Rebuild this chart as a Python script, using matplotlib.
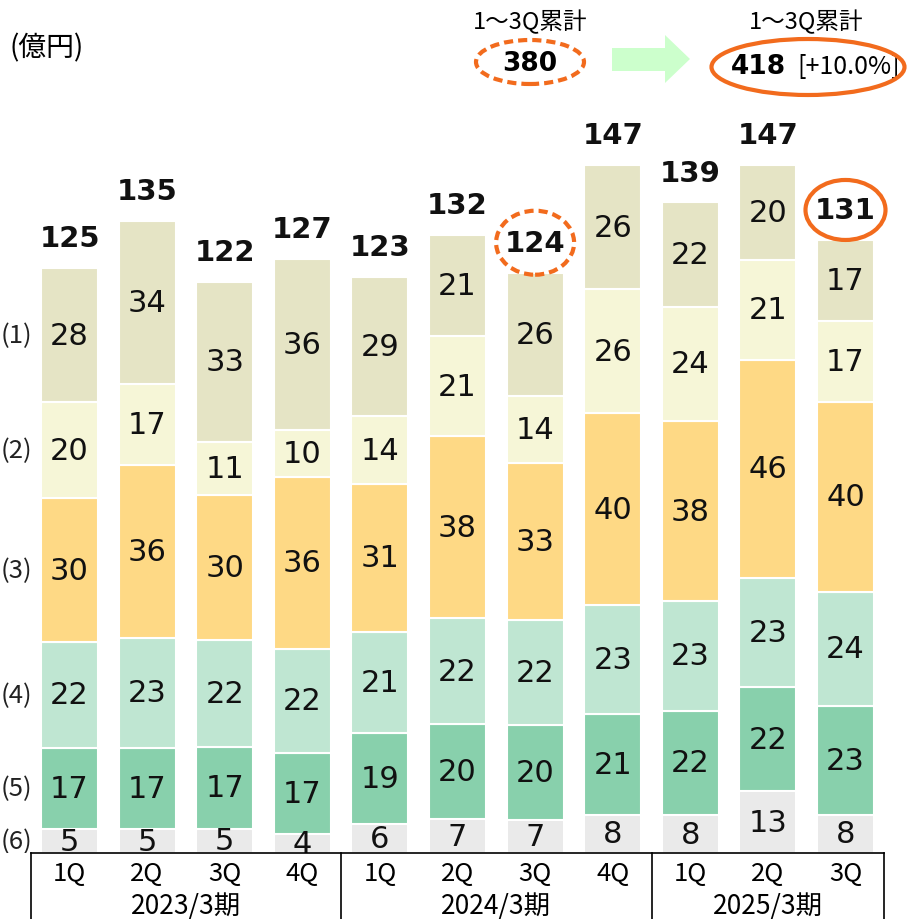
import matplotlib
matplotlib.use('Agg')
from matplotlib import pyplot
from matplotlib.patches import Ellipse, Rectangle, Polygon
import numpy

pyplot.rcParams['font.family'] = ['DejaVu Sans', 'Noto Sans CJK JP']

# 
# data (億円), series (1) on top ... (6) at bottom
# 
quarters = ['1Q', '2Q', '3Q', '4Q', '1Q', '2Q', '3Q', '4Q', '1Q', '2Q', '3Q']
fiscal_years = ['2023/3期', '2024/3期', '2025/3期']
fiscal_year_nquarters = [4, 4, 3]
series_names = ['(1)', '(2)', '(3)', '(4)', '(5)', '(6)']
seg_1 = [28, 34, 33, 36, 29, 21, 26, 26, 22, 20, 17]
seg_2 = [20, 17, 11, 10, 14, 21, 14, 26, 24, 21, 17]
seg_3 = [30, 36, 30, 36, 31, 38, 33, 40, 38, 46, 40]
seg_4 = [22, 23, 22, 22, 21, 22, 22, 23, 23, 23, 24]
seg_5 = [17, 17, 17, 17, 19, 20, 20, 21, 22, 22, 23]
seg_6 = [5, 5, 5, 4, 6, 7, 7, 8, 8, 13, 8]
totals = [125, 135, 122, 127, 123, 132, 124, 147, 139, 147, 131]
cum_prev_label = '380'
cum_this_label = '418'
cum_growth_label = '[+10.0%]'
cum_title = '1～3Q累計'

seg_colors = ['#E5E4C5', '#F6F6D7', '#FED985', '#BFE6D2', '#88D0AC', '#EAEAEA']
orange = '#F26B1D'
cjk = ['Noto Sans CJK JP', 'DejaVu Sans']

# 
# pixel <-> data helpers (figure 913x920 px, axes fill the figure)
# 
x0_px, dx_px = 69.5, 77.6
y0_px, dy_px = 854.0, 4.68
def px_x(p):
    return (p - x0_px) / dx_px
def px_y(p):
    return (y0_px - p) / dy_px

fig = pyplot.figure(figsize=(9.13, 9.2), dpi=100)
ax = fig.add_axes([0, 0, 1, 1])
ax.set_xlim(px_x(0), px_x(913))
ax.set_ylim(px_y(920), px_y(0))
ax.axis('off')

# 
# stacked bars, bottom to top; labels are truncated values so the
# segments are scaled to reach the bar total
# 
stack = numpy.array([seg_6, seg_5, seg_4, seg_3, seg_2, seg_1], dtype=float)
colors_bottom_up = seg_colors[::-1]
names_bottom_up = series_names[::-1]
scale = numpy.array(totals) / stack.sum(axis=0)
xpos = numpy.arange(len(quarters))
bottom = numpy.zeros(len(quarters))
for k in range(stack.shape[0]):
    h = stack[k] * scale
    ax.bar(xpos, h, bottom=bottom, width=0.734, color=colors_bottom_up[k],
           edgecolor='white', linewidth=1.5, zorder=2)
    for i in range(len(xpos)):
        ax.text(xpos[i], bottom[i] + h[i] / 2, '%d' % stack[k][i], ha='center', va='center',
                fontsize=22, color='#111111', zorder=2.5)
    # series label at the left of the first bar
    ax.text(px_x(32), bottom[0] + h[0] / 2, names_bottom_up[k], ha='right', va='center',
            fontsize=18.5, family=cjk, color='#222222', zorder=2.5)
    bottom = bottom + h

# total labels
for i in range(len(xpos)):
    ax.text(xpos[i], totals[i] + 6.4, '%d' % totals[i], ha='center', va='center',
            fontsize=21, fontweight='bold', color='#111111', zorder=3)

# 
# category table below the bars
# 
ax.add_patch(Rectangle((px_x(0), px_y(920)), px_x(913) - px_x(0), -px_y(920),
                       facecolor='white', edgecolor='none', zorder=2.8))
ax.plot([-0.5, len(quarters) - 0.5], [0, 0], color='black', lw=1.2, zorder=4, clip_on=False)
edges = numpy.concatenate(([0], numpy.cumsum(fiscal_year_nquarters))) - 0.5
for e in edges:
    ax.plot([e, e], [0, px_y(925)], color='black', lw=1.2, zorder=4, clip_on=False)
for i in range(len(quarters)):
    ax.text(xpos[i], px_y(874), quarters[i], ha='center', va='center', fontsize=18.5,
            family=cjk, zorder=4)
for j in range(len(fiscal_years)):
    ax.text((edges[j] + edges[j + 1]) / 2, px_y(907), fiscal_years[j], ha='center', va='center',
            fontsize=19, family=cjk, zorder=4)

# 
# unit and cumulative annotations
# 
ax.text(px_x(9), px_y(48), '(億円)', ha='left', va='center', fontsize=20, family=cjk)
ax.text(px_x(530), px_y(22), cum_title, ha='center', va='center', fontsize=17, family=cjk)
ax.text(px_x(806), px_y(22), cum_title, ha='center', va='center', fontsize=17, family=cjk)
ax.text(px_x(530), px_y(64), cum_prev_label, ha='center', va='center', fontsize=19,
        fontweight='bold')
ax.add_patch(Ellipse((px_x(530), px_y(63)), 108 / dx_px, 44 / dy_px, fill=False,
                     edgecolor=orange, lw=3, linestyle=(0, (2.2, 1.2)), zorder=5))
ax.text(px_x(758), px_y(67), cum_this_label, ha='center', va='center', fontsize=19,
        fontweight='bold')
ax.text(px_x(849), px_y(67), cum_growth_label, ha='center', va='center', fontsize=18,
        family=cjk)
ax.add_patch(Ellipse((px_x(808), px_y(68)), 193 / dx_px, 56 / dy_px, fill=False,
                     edgecolor=orange, lw=3, zorder=5))
arrow_px = [(612, 49), (665, 49), (665, 36), (690, 60), (665, 84), (665, 72), (612, 72)]
ax.add_patch(Polygon([(px_x(a), px_y(b)) for a, b in arrow_px], closed=True,
                     facecolor='#CCFFCC', edgecolor='none', zorder=1))

# highlight circles on 3Q totals
ax.add_patch(Ellipse((6, totals[6] + 6.4), 78 / dx_px, 64 / dy_px, fill=False,
                     edgecolor=orange, lw=3, linestyle=(0, (2.2, 1.2)), zorder=5))
ax.add_patch(Ellipse((10, totals[10] + 6.4), 80 / dx_px, 60 / dy_px, fill=False,
                     edgecolor=orange, lw=3, zorder=5))

pyplot.savefig('out.png', dpi=100)
print('Output to "out.png"!')
